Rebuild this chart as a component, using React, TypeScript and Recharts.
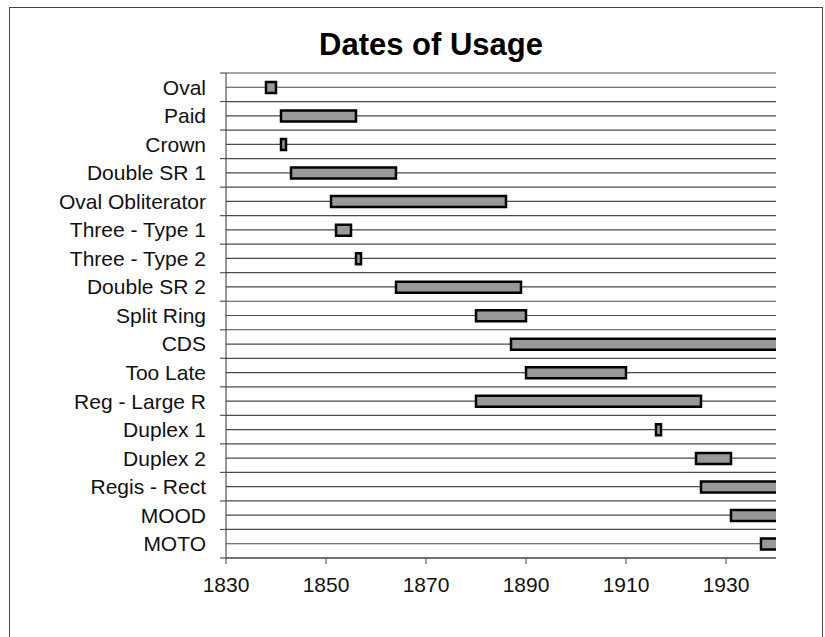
import { Bar, BarChart, CartesianGrid, XAxis, YAxis } from "recharts";

const stamps = [
  "Oval",
  "Paid",
  "Crown",
  "Double SR 1",
  "Oval Obliterator",
  "Three - Type 1",
  "Three - Type 2",
  "Double SR 2",
  "Split Ring",
  "CDS",
  "Too Late",
  "Reg - Large R",
  "Duplex 1",
  "Duplex 2",
  "Regis - Rect",
  "MOOD",
  "MOTO",
];
const firstUsed = [1838, 1841, 1841, 1843, 1851, 1852, 1856, 1864, 1880, 1887, 1890, 1880, 1916, 1924, 1925, 1931, 1937];
const lastUsed = [1840, 1856, 1842, 1864, 1886, 1855, 1857, 1889, 1890, 1945, 1910, 1925, 1917, 1931, 1945, 1945, 1945];
const yearTicks = [1830, 1850, 1870, 1890, 1910, 1930];

const data = stamps.map((name, i) => ({ name, span: [firstUsed[i], lastUsed[i]] }));

const font = "'Liberation Sans', Arial, sans-serif";
const W = 825;
const H = 637;
const margin = { top: 73, right: 49, bottom: 49, left: 0 };
const xAxisHeight = 30;
const labelGap = 20;
const plotH = H - margin.top - margin.bottom - xAxisHeight;
const rowPitch = plotH / stamps.length;

// a line on every row edge and one through every row centre
const rowLines = ({ offset }: any) => {
  const top = offset && typeof offset.top === "number" ? offset.top : margin.top;
  const h = offset && typeof offset.height === "number" ? offset.height : plotH;
  const step = h / stamps.length;
  const out: number[] = [];
  stamps.forEach((_, i) => {
    out.push(top + i * step, top + (i + 0.5) * step);
  });
  out.push(top + h);
  return out;
};

const RowTick = (props: any) => {
  const { x, y, payload, index } = props;
  const ax = x + labelGap;
  const last = index === stamps.length - 1;
  return (
    <g>
      <text x={x} y={y} dy="0.355em" textAnchor="end" fill="#111" fontSize={21} fontFamily={font}>
        {payload.value}
      </text>
      <line x1={ax - 6} x2={ax} y1={y - rowPitch / 2} y2={y - rowPitch / 2} stroke="#555" strokeWidth={1.2} />
      {last && <line x1={ax - 6} x2={ax} y1={y + rowPitch / 2} y2={y + rowPitch / 2} stroke="#555" strokeWidth={1.2} />}
    </g>
  );
};

export default function App() {
  return (
    <div style={{ position: "absolute", left: 0, top: 0, width: W, height: H, overflow: "hidden", background: "#fff", fontFamily: font }}>
      <div style={{ position: "absolute", left: 9, top: 7, width: 812, height: 700, border: "1.5px solid #444" }} />
      <div style={{ position: "absolute", left: 0, top: 29, width: 862, textAlign: "center", fontSize: 31, fontWeight: "bold", lineHeight: "31px" }}>
        Dates of Usage
      </div>
      <BarChart
        width={W}
        height={H}
        data={data}
        layout="vertical"
        margin={margin}
        style={{ position: "absolute", left: 0, top: 0 }}
      >
        <CartesianGrid yAxisId="cat" vertical={false} horizontalCoordinatesGenerator={rowLines} stroke="#4a4a4a" strokeWidth={1.2} />
        <XAxis
          type="number"
          domain={[1830, 1940]}
          allowDataOverflow
          ticks={yearTicks}
          tickSize={6}
          tickMargin={13}
          height={xAxisHeight}
          stroke="#444"
          tick={{ fill: "#111", fontSize: 21, fontFamily: font }}
        />
        <YAxis
          yAxisId="cat"
          type="category"
          dataKey="name"
          width={226}
          tickSize={0}
          tickMargin={labelGap}
          stroke="#333"
          tick={<RowTick />}
          interval={0}
        />
        <Bar yAxisId="cat" dataKey="span" barSize={11} fill="#999999" stroke="#000" strokeWidth={2.5} isAnimationActive={false} />
      </BarChart>
    </div>
  );
}
